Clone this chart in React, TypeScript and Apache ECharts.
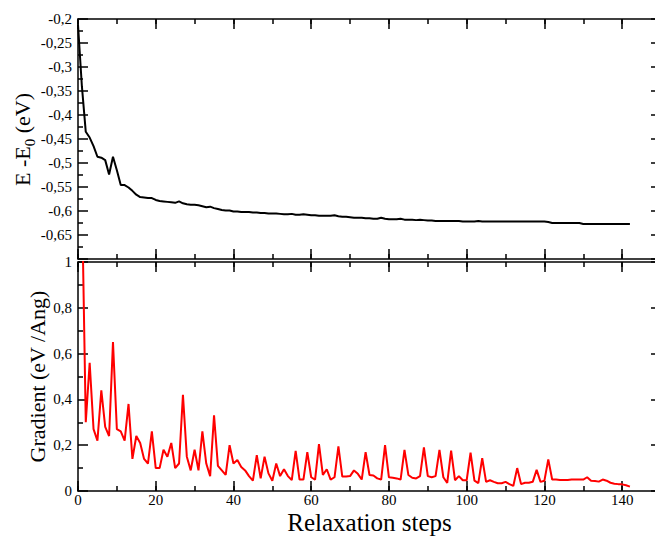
import React, { useEffect, useRef } from "react";
import * as echarts from "echarts";

// Energy relative to E0 (eV), one value per relaxation step 0..142
const energy: number[] = [
  -0.212, -0.34, -0.435, -0.447, -0.465, -0.487, -0.489, -0.494, -0.524, -0.487,
  -0.515, -0.546, -0.546, -0.551, -0.558, -0.566, -0.571, -0.572, -0.573, -0.573,
  -0.577, -0.579, -0.58, -0.581, -0.582, -0.583, -0.58, -0.584, -0.586, -0.587,
  -0.587, -0.588, -0.59, -0.592, -0.591, -0.594, -0.596, -0.598, -0.599, -0.599,
  -0.601, -0.601, -0.602, -0.602, -0.602, -0.603, -0.603, -0.604, -0.604, -0.605,
  -0.605, -0.605, -0.606, -0.607, -0.607, -0.606, -0.608, -0.608, -0.607, -0.608,
  -0.609, -0.609, -0.61, -0.61, -0.61, -0.61, -0.609, -0.611, -0.612, -0.612,
  -0.613, -0.614, -0.614, -0.614, -0.615, -0.615, -0.616, -0.616, -0.614, -0.616,
  -0.617, -0.617, -0.617, -0.616, -0.618, -0.618, -0.618, -0.619, -0.618, -0.619,
  -0.62, -0.62, -0.621, -0.621, -0.621, -0.621, -0.621, -0.621, -0.621, -0.622,
  -0.622, -0.622, -0.622, -0.621, -0.622, -0.622, -0.622, -0.622, -0.622, -0.622,
  -0.622, -0.622, -0.622, -0.622, -0.622, -0.622, -0.622, -0.622, -0.622, -0.622,
  -0.622, -0.623, -0.625, -0.625, -0.625, -0.625, -0.625, -0.625, -0.625, -0.625,
  -0.627, -0.627, -0.627, -0.627, -0.627, -0.627, -0.627, -0.627, -0.627, -0.627,
  -0.627, -0.627, -0.627,
];

// Gradient (eV/Ang), one value per relaxation step 0..142
const gradient: number[] = [
  1.5, 1.3, 0.3, 0.56, 0.27, 0.22, 0.44, 0.28, 0.24, 0.65,
  0.27, 0.26, 0.22, 0.38, 0.14, 0.24, 0.21, 0.14, 0.12, 0.26,
  0.1, 0.1, 0.18, 0.15, 0.21, 0.1, 0.12, 0.42, 0.15, 0.09,
  0.18, 0.09, 0.26, 0.12, 0.065, 0.33, 0.11, 0.09, 0.07, 0.2,
  0.12, 0.135, 0.105, 0.09, 0.065, 0.045, 0.157, 0.055, 0.15, 0.077,
  0.045, 0.12, 0.065, 0.095, 0.065, 0.048, 0.175, 0.05, 0.05, 0.17,
  0.06, 0.05, 0.205, 0.07, 0.095, 0.05, 0.06, 0.195, 0.063, 0.063,
  0.065, 0.09, 0.075, 0.05, 0.17, 0.07, 0.068, 0.055, 0.05, 0.2,
  0.06, 0.058, 0.055, 0.05, 0.18, 0.07, 0.058, 0.055, 0.065, 0.19,
  0.065, 0.06, 0.065, 0.18, 0.06, 0.035, 0.176, 0.047, 0.065, 0.047,
  0.047, 0.167, 0.045, 0.034, 0.143, 0.04, 0.047, 0.04, 0.034, 0.034,
  0.04, 0.03, 0.022, 0.1, 0.03, 0.036, 0.036, 0.04, 0.092, 0.04,
  0.045, 0.138, 0.05, 0.05, 0.048, 0.048, 0.048, 0.05, 0.05, 0.05,
  0.05, 0.06, 0.045, 0.044, 0.041, 0.05, 0.045, 0.036, 0.032, 0.03,
  0.029, 0.025, 0.019,
];

const xTitle = "Relaxation steps";
const yTitleTopParts = ["E -E", "0", " (eV)"];
const yTitleBottom = "Gradient (eV /Ang)";

const FONT = "Liberation Serif";
const LINE = { color: "#000", width: 1.5 };

const fmt = (v: number) => {
  const r = Math.round(v * 100) / 100;
  return String(r).replace(".", ",");
};

function xAxesFor(gridIndex: number, withLabels: boolean) {
  const base = {
    type: "value" as const,
    gridIndex,
    min: 0,
    max: 150,
    splitLine: { show: false },
  };
  const major = (position: "top" | "bottom", labels: boolean) => ({
    ...base,
    position,
    interval: 20,
    axisLine: { show: true, onZero: false, lineStyle: LINE },
    axisTick: { show: true, inside: true, length: 10, lineStyle: LINE },
    axisLabel: {
      show: labels,
      showMaxLabel: false,
      fontFamily: FONT,
      fontSize: 15,
      lineHeight: 14,
      color: "#000",
      margin: 1.5,
    },
    ...(labels
      ? {
          name: xTitle,
          nameLocation: "middle",
          nameGap: 19.3,
          nameMoveOverlap: false,
          nameTextStyle: { fontFamily: FONT, fontSize: 25, lineHeight: 24, color: "#000" },
        }
      : {}),
  });
  const minor = (position: "top" | "bottom") => ({
    ...base,
    position,
    interval: 10,
    axisLine: { show: false, onZero: false },
    axisTick: { show: true, inside: true, length: 5, lineStyle: LINE },
    axisLabel: { show: false },
  });
  return [
    major("bottom", withLabels),
    minor("bottom"),
    major("top", false),
    minor("top"),
  ];
}

function yAxesFor(
  gridIndex: number,
  min: number,
  max: number,
  interval: number,
  name: string,
  nameGap: number,
  hideMin: boolean
) {
  const common = {
    type: "value" as const,
    gridIndex,
    min,
    max,
    interval,
    splitLine: { show: false },
    axisLine: { show: true, onZero: false, lineStyle: LINE },
    axisTick: { show: true, inside: true, length: 10, lineStyle: LINE },
    minorTick: { show: true, splitNumber: 2, length: 5, lineStyle: LINE },
  };
  return [
    {
      ...common,
      position: "left",
      axisLabel: {
        show: true,
        showMinLabel: !hideMin,
        formatter: fmt,
        fontFamily: FONT,
        fontSize: 15,
        color: "#000",
        margin: 6,
      },
      name,
      nameLocation: "middle",
      nameRotate: 90,
      nameGap,
      nameMoveOverlap: false,
      nameTextStyle: { fontFamily: FONT, fontSize: 22, color: "#000" },
    },
    {
      ...common,
      position: "right",
      axisLabel: { show: false },
    },
  ];
}

export default function App() {
  const ref = useRef<HTMLDivElement>(null);
  useEffect(() => {
    if (!ref.current) return;
    const chart = echarts.init(ref.current, undefined, { renderer: "svg" });
    const xs = [...xAxesFor(0, false), ...xAxesFor(1, true)];
    const ys = [
      ...yAxesFor(0, -0.7, -0.2, 0.05, "", 44, true),
      ...yAxesFor(1, 0, 1, 0.2, yTitleBottom, 30, false),
    ];
    const titleText = (text: string, x: number, y: number, size: number) => ({
      type: "text",
      x,
      y,
      rotation: Math.PI / 2,
      style: {
        text,
        align: "left",
        verticalAlign: "middle",
        fontFamily: FONT,
        fontSize: size,
        fill: "#000",
      },
    });
    chart.setOption({
      animation: false,
      backgroundColor: "#fff",
      grid: [
        { left: 78, top: 19, width: 583, height: 240, outerBoundsMode: "none", containLabel: false },
        { left: 78, top: 262, width: 583, height: 229, outerBoundsMode: "none", containLabel: false },
      ],
      graphic: [
        titleText(yTitleTopParts[0], 22, 186, 22),
        titleText(yTitleTopParts[1], 30, 146.3, 15),
        titleText(yTitleTopParts[2], 22, 138.8, 22),
      ],
      xAxis: xs,
      yAxis: ys,
      series: [
        {
          type: "line",
          xAxisIndex: 0,
          yAxisIndex: 0,
          data: energy.map((v, i) => [i, v]),
          showSymbol: false,
          symbol: "none",
          clip: true,
          lineStyle: { color: "#000", width: 2 },
        },
        {
          type: "line",
          xAxisIndex: 4,
          yAxisIndex: 2,
          data: gradient.map((v, i) => [i, v]),
          showSymbol: false,
          symbol: "none",
          clip: true,
          lineStyle: { color: "#ff0000", width: 2 },
        },
      ],
    });
    return () => chart.dispose();
  }, []);
  return (
    <div
      ref={ref}
      style={{ position: "absolute", left: 0, top: 0, width: 655, height: 536 }}
    />
  );
}
